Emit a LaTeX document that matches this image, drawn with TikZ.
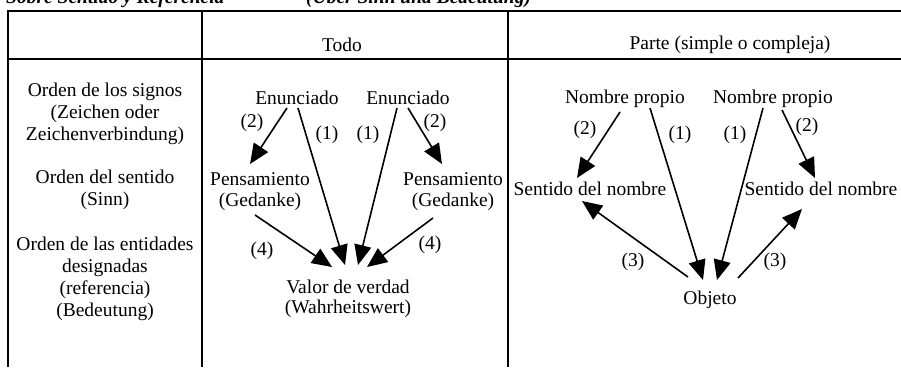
\documentclass[tikz,border=0pt]{standalone}
\usepackage{fontspec}
\setmainfont{Liberation Serif}
\usetikzlibrary{arrows.meta,calc}
\begin{document}
\begin{tikzpicture}[x=1pt,y=-1pt,
  txt/.style={inner sep=0pt,anchor=base,font=\fontsize{19.5}{21.5}\selectfont},
  lbl/.style={inner sep=0pt,anchor=center,font=\fontsize{19.5}{21.5}\selectfont},
  ttl/.style={inner sep=0pt,anchor=base west,font=\fontsize{19.5}{21.5}\selectfont\bfseries\itshape},
  rule/.style={line width=1.8pt},
  arr/.style={line width=1.6pt,-{Triangle[length=20pt,width=17pt]}}]
\useasboundingbox (0,0) rectangle (901,367);
\clip (0,0) rectangle (901,367);
% title (cut off at top)
\node[ttl] (t1) at (6,3) {Sobre Sentido y Referencia};
\node[ttl] (t2) at (306,3) {(Über Sinn und Bedeutung)};
% table
\draw[rule] (7,11) -- (901,11);
\draw[rule] (7,59) -- (901,59);
\draw[rule] (8,10) -- (8,367);
\draw[rule] (202,10) -- (202,367);
\draw[rule] (508,10) -- (508,367);
% header
\node[lbl] (todo) at (342,45) {Todo};
\node[lbl] (parte) at (730,45) {Parte (simple o compleja)};
% left column
\node[txt] (o1) at (105,96) {Orden de los signos};
\node[txt] (o2) at (105,118) {(Zeichen oder};
\node[txt] (o3) at (105,140) {Zeichenverbindung)};
\node[txt] (o4) at (105,183) {Orden del sentido};
\node[txt] (o5) at (105,205) {(Sinn)};
\node[txt] (o6) at (105,250) {Orden de las entidades};
\node[txt] (o7) at (105,272) {designadas};
\node[txt] (o8) at (105,294) {(referencia)};
\node[txt] (o9) at (105,316) {(Bedeutung)};
% middle: Todo
\node[txt] (enL) at (297,104) {Enunciado};
\node[txt] (enR) at (408,104) {Enunciado};
\node[txt] (pensL) at (260,185) {Pensamiento};
\node[txt] (pensLb) at (260,206) {(Gedanke)};
\node[txt] (pensR) at (453,185) {Pensamiento};
\node[txt] (pensRb) at (453,206) {(Gedanke)};
\node[txt] (val) at (348,293) {Valor de verdad};
\node[txt] (valb) at (348,313) {(Wahrheitswert)};
\draw[arr] ($(enL.base)+(-10,4)$) -- ($(pensL.base)+(-10,-21)$);
\draw[arr] ($(enL.base)+(1,4)$) -- ($(val.base)+(-3,-28)$);
\draw[arr] ($(enR.base)+(-11,4)$) -- ($(val.base)+(10,-28)$);
\draw[arr] ($(enR.base)+(0,4)$) -- ($(pensR.base)+(-11,-21)$);
\draw[arr] ($(pensLb.base)+(-5,9)$) -- ($(val.base)+(-16,-26)$);
\draw[arr] ($(pensRb.base)+(-20,12)$) -- ($(val.base)+(19,-26)$);
\node[lbl] (l2a) at (252,123) {(2)};
\node[lbl] (l1a) at (327,135) {(1)};
\node[lbl] (l1b) at (368,135) {(1)};
\node[lbl] (l2b) at (435,123) {(2)};
\node[lbl] (l4a) at (262,251) {(4)};
\node[lbl] (l4b) at (430,245) {(4)};
% right: Parte
\node[txt] (npL) at (625,103) {Nombre propio};
\node[txt] (npR) at (773,103) {Nombre propio};
\node[txt] (senL) at (590,195) {Sentido del nombre};
\node[txt] (senR) at (821,195) {Sentido del nombre};
\node[txt] (obj) at (710,304) {Objeto};
\draw[arr] ($(npL.base)+(-5,9)$) -- ($(senL.base)+(-13,-17)$);
\draw[arr] ($(npL.base)+(25,5)$) -- ($(obj.base)+(-7,-24)$);
\draw[arr] ($(npR.base)+(-10,5)$) -- ($(obj.base)+(7,-24)$);
\draw[arr] ($(npR.base)+(9,7)$) -- ($(senR.base)+(-6,-17)$);
\draw[arr] ($(obj.base)+(-22,-27)$) -- ($(senL.base)+(-8,6)$);
\draw[arr] ($(obj.base)+(28,-26)$) -- ($(senR.base)+(-19,14)$);
\node[lbl] (r2a) at (585,130) {(2)};
\node[lbl] (r1a) at (680,135) {(1)};
\node[lbl] (r1b) at (735,135) {(1)};
\node[lbl] (r2b) at (807,127) {(2)};
\node[lbl] (r3a) at (633,262) {(3)};
\node[lbl] (r3b) at (775,262) {(3)};
\end{tikzpicture}
\end{document}
